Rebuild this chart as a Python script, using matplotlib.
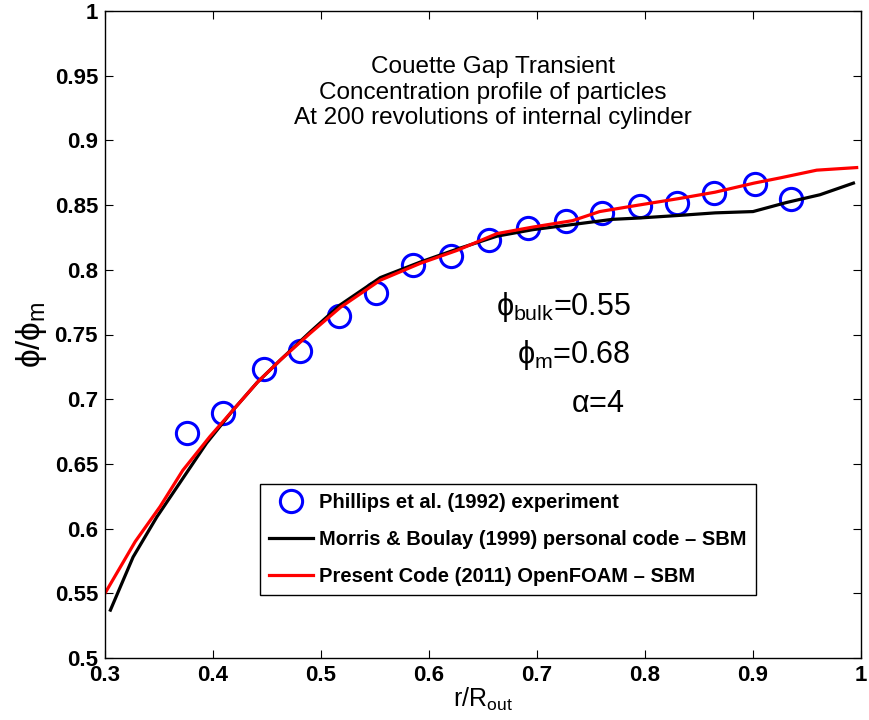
import matplotlib
matplotlib.use("Agg")
import matplotlib.pyplot as plt

plt.rcParams['font.family'] = ['Liberation Sans', 'DejaVu Sans']
plt.rcParams['mathtext.fontset'] = 'custom'
plt.rcParams['mathtext.rm'] = 'Liberation Sans'
plt.rcParams['mathtext.it'] = 'Liberation Sans'
plt.rcParams['mathtext.bf'] = 'Liberation Sans:bold'

# Experimental data (Phillips et al. 1992)
exp_r = [0.376, 0.409, 0.447, 0.481, 0.517, 0.551, 0.585, 0.620, 0.656,
         0.692, 0.727, 0.760, 0.795, 0.830, 0.864, 0.902, 0.935]
exp_phi = [0.674, 0.689, 0.723, 0.737, 0.764, 0.782, 0.804, 0.811, 0.823,
           0.832, 0.838, 0.844, 0.849, 0.852, 0.859, 0.866, 0.855]

# Morris & Boulay (1999)
mb_r = [0.305, 0.326, 0.348, 0.369, 0.394, 0.419, 0.441, 0.462, 0.490, 0.518,
        0.555, 0.592, 0.626, 0.663, 0.696, 0.733, 0.770, 0.794, 0.831, 0.865,
        0.900, 0.931, 0.962, 0.993]
mb_phi = [0.537, 0.578, 0.609, 0.635, 0.666, 0.692, 0.713, 0.730, 0.752, 0.773,
          0.794, 0.806, 0.816, 0.826, 0.831, 0.835, 0.839, 0.840, 0.842, 0.844,
          0.845, 0.852, 0.858, 0.867]

# Present code (2011) OpenFOAM
pc_r = [0.300, 0.328, 0.351, 0.372, 0.397, 0.419, 0.441, 0.462, 0.490, 0.518,
        0.555, 0.592, 0.626, 0.663, 0.696, 0.733, 0.758, 0.794, 0.831, 0.865,
        0.901, 0.925, 0.959, 0.996]
pc_phi = [0.550, 0.590, 0.617, 0.645, 0.671, 0.692, 0.713, 0.730, 0.751, 0.771,
          0.792, 0.805, 0.815, 0.828, 0.833, 0.838, 0.845, 0.850, 0.855, 0.860,
          0.867, 0.871, 0.877, 0.879]

xticks = [0.3, 0.4, 0.5, 0.6, 0.7, 0.8, 0.9, 1.0]
xticklabels = ['0.3', '0.4', '0.5', '0.6', '0.7', '0.8', '0.9', '1']
yticks = [0.5, 0.55, 0.6, 0.65, 0.7, 0.75, 0.8, 0.85, 0.9, 0.95, 1.0]
yticklabels = ['0.5', '0.55', '0.6', '0.65', '0.7', '0.75', '0.8', '0.85', '0.9', '0.95', '1']

fig = plt.figure(figsize=(8.7, 7.2), dpi=100)
ax = fig.add_axes([105/870, 1 - 658/720, 756/870, 647/720])

ax.plot(exp_r, exp_phi, linestyle='none', marker='o', markersize=16,
        markerfacecolor='none', markeredgecolor='#0000ff', markeredgewidth=2.2,
        label='Phillips et al. (1992) experiment')
ax.plot(mb_r, mb_phi, color='black', linewidth=2.3,
        label='Morris & Boulay (1999) personal code \u2013 SBM')
ax.plot(pc_r, pc_phi, color='#ff0000', linewidth=2.3,
        label='Present Code (2011) OpenFOAM \u2013 SBM')

ax.set_xlim(0.3, 1.0)
ax.set_ylim(0.5, 1.0)
ax.set_xticks(xticks)
ax.set_xticklabels(xticklabels, fontsize=16, fontweight='bold')
ax.set_yticks(yticks)
ax.set_yticklabels(yticklabels, fontsize=16, fontweight='bold')
ax.tick_params(direction='in', length=6, width=0.8, top=True, right=True,
               pad=5)
for s in ax.spines.values():
    s.set_linewidth(1.0)

ax.set_xlabel(r'r/R$_{\mathrm{out}}$', fontsize=18, labelpad=0)
ax.set_ylabel(r'$\phi/\phi_{\mathrm{m}}$', fontsize=24, labelpad=4)

ax.text(0.659, 0.937, 'Couette Gap Transient\nConcentration profile of particles\nAt 200 revolutions of internal cylinder',
        ha='center', va='center', fontsize=17.5, linespacing=1.22)

ax.text(0.787, 0.765, r'$\phi_{\mathrm{bulk}}$=0.55', ha='right', va='baseline', fontsize=22)
ax.text(0.787, 0.728, r'$\phi_{\mathrm{m}}$=0.68', ha='right', va='baseline', fontsize=22)
ax.text(0.781, 0.690, r'$\alpha$=4', ha='right', va='baseline', fontsize=22)

leg = ax.legend(loc='lower left', bbox_to_anchor=(0.205, 0.097), borderaxespad=0,
                fancybox=False, edgecolor='black', framealpha=1,
                prop={'weight': 'bold', 'size': 14.5}, handlelength=2.2,
                handletextpad=0.3, borderpad=0.45, labelspacing=0.9)
leg.get_frame().set_linewidth(1.0)

fig.savefig('out.png', dpi=100)
